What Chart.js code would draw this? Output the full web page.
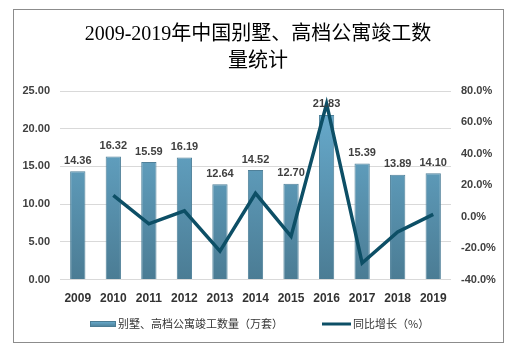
<!DOCTYPE html>
<html>
<head>
<meta charset="utf-8">
<script src="https://cdn.jsdelivr.net/npm/chart.js@4.4.0/dist/chart.umd.min.js"></script>
<style>
  html, body { margin: 0; padding: 0; background: #fff; }
  #wrap { width: 513px; height: 352px; position: relative; }
</style>
</head>
<body>
<div id="wrap"><canvas id="c" width="513" height="352"></canvas></div>
<script>
const years = ["2009","2010","2011","2012","2013","2014","2015","2016","2017","2018","2019"];
const completions = [14.36, 16.32, 15.59, 16.19, 12.64, 14.52, 12.70, 21.83, 15.39, 13.89, 14.10];
const growth = [null, 13.6, -4.5, 3.8, -21.9, 14.9, -12.5, 71.9, -29.5, -9.7, 1.5];

const barLabel = "别墅、高档公寓竣工数量（万套）";
const lineLabel = "同比增长（%）";
const titleLines = ["2009-2019年中国别墅、高档公寓竣工数", "量统计"];

const lineColor = "#0d4f66";
const textColor = "#404040";
const sansFont = "'Noto Sans CJK SC', 'Liberation Sans', sans-serif";
const tickFont = "Arial, 'Liberation Sans', 'Noto Sans CJK SC', sans-serif";

function barGradient(ctx, top, bottom)
{
  const g = ctx.createLinearGradient(0, top, 0, bottom);
  g.addColorStop(0, "#6aafd2");
  g.addColorStop(1, "#4b7c94");
  return g;
}

const decor =
{
  id: "decor",
  afterDraw(chart)
  {
    const ctx = chart.ctx;
    ctx.save();

    // frame
    ctx.strokeStyle = "#8c8c8c";
    ctx.lineWidth = 1;
    ctx.strokeRect(13.5, 9.5, 490, 333);

    // title
    ctx.fillStyle = "#000";
    ctx.font = "20px 'Liberation Serif', 'Noto Sans CJK SC', serif";
    ctx.textAlign = "center";
    ctx.textBaseline = "middle";
    ctx.fillText(titleLines[0], 258, 35);
    ctx.fillText(titleLines[1], 258, 62);

    // value labels above bars
    const meta = chart.getDatasetMeta(1);
    ctx.font = "bold 11px " + tickFont;
    ctx.fillStyle = textColor;
    ctx.textBaseline = "bottom";
    meta.data.forEach((bar, i) =>
    {
      ctx.fillText(completions[i].toFixed(2), bar.x, bar.y - 5);
    });

    // legend
    ctx.fillStyle = barGradient(ctx, 321, 327);
    ctx.fillRect(90, 321, 26, 6);
    ctx.strokeStyle = "#4b7c94";
    ctx.strokeRect(90.5, 321.5, 25, 5);

    ctx.font = "11px " + sansFont;
    ctx.fillStyle = "#333";
    ctx.textAlign = "left";
    ctx.textBaseline = "middle";
    ctx.fillText(barLabel, 118, 324);

    ctx.strokeStyle = lineColor;
    ctx.lineWidth = 3;
    ctx.beginPath();
    ctx.moveTo(322, 324);
    ctx.lineTo(351, 324);
    ctx.stroke();
    ctx.fillText(lineLabel, 353, 324);

    ctx.restore();
  }
};

new Chart(document.getElementById("c"),
{
  type: "bar",
  data:
  {
    labels: years,
    datasets: [
    {
      type: "line",
      label: lineLabel,
      data: growth,
      yAxisID: "y1",
      borderColor: lineColor,
      borderWidth: 3.5,
      pointRadius: 0,
      tension: 0,
      spanGaps: false,
      order: 0
    },
    {
      type: "bar",
      label: barLabel,
      data: completions,
      yAxisID: "y",
      backgroundColor: c =>
      {
        const a = c.chart.chartArea;
        if (!a) return "#5a95b3";
        return barGradient(c.chart.ctx, a.top, a.bottom);
      },
      borderColor: "#4f8099",
      borderWidth: 1,
      categoryPercentage: 1,
      barPercentage: 0.43,
      order: 1
    }]
  },
  options:
  {
    responsive: false,
    animation: false,
    layout: { padding: { top: 91, bottom: 42, left: 0, right: 0 } },
    plugins:
    {
      legend: { display: false },
      title: { display: false },
      tooltip: { enabled: false }
    },
    scales:
    {
      x:
      {
        grid: { display: false },
        border: { display: false },
        ticks:
        {
          color: "#333",
          font: { family: tickFont, size: 12, weight: "bold" },
          padding: 4,
          maxRotation: 0,
          autoSkip: false
        }
      },
      y:
      {
        position: "left",
        min: 0,
        max: 25,
        ticks:
        {
          stepSize: 5,
          color: textColor,
          font: { family: tickFont, size: 11, weight: "bold" },
          padding: 10,
          callback: v => v.toFixed(2)
        },
        grid: { color: "#d9d9d9", drawTicks: false },
        border: { display: false },
        afterFit: s => { s.width = 60; }
      },
      y1:
      {
        position: "right",
        min: -40,
        max: 80,
        ticks:
        {
          stepSize: 20,
          color: textColor,
          font: { family: tickFont, size: 11, weight: "bold" },
          padding: 10,
          callback: v => v.toFixed(1) + "%"
        },
        grid: { display: false, drawTicks: false },
        border: { display: false },
        afterFit: s => { s.width = 62; }
      }
    }
  },
  plugins: [decor]
});
</script>
</body>
</html>
